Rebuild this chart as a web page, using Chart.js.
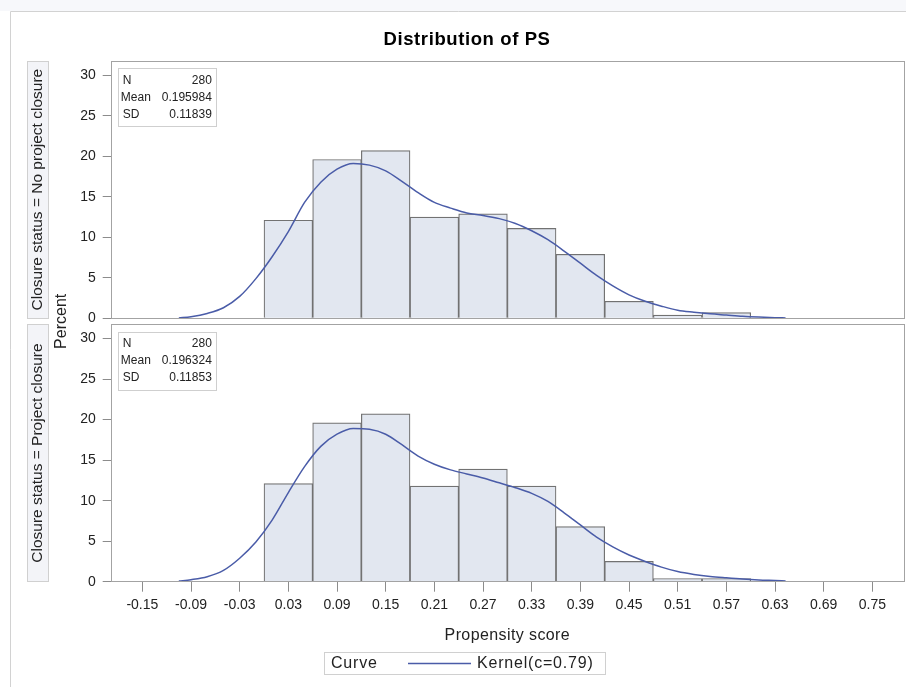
<!DOCTYPE html>
<html>
<head>
<meta charset="utf-8">
<title>Distribution of PS</title>
<script src="https://cdn.jsdelivr.net/npm/chart.js@4.4.0/dist/chart.umd.min.js"></script>
<style>
  html, body { margin: 0; padding: 0; background: #fff; }
  #wrap { position: relative; width: 906px; height: 687px; }
</style>
</head>
<body>
<div id="wrap"><canvas id="ps-chart" width="906" height="687"></canvas></div>
<script>
/* ---------- DATA ---------- */
const binMidpoints = [0.03, 0.09, 0.15, 0.21, 0.27, 0.33, 0.39, 0.45, 0.51, 0.57];
const pctNoClosure = [12.1, 19.6, 20.7, 12.5, 12.9, 11.1, 7.9, 2.1, 0.4, 0.7];
const pctClosure   = [12.1, 19.6, 20.7, 11.8, 13.9, 11.8, 6.8, 2.5, 0.4, 0.4];

const kernelX = [-0.105, -0.09, -0.07, -0.05, -0.03, -0.01, 0.01, 0.03, 0.05, 0.07,
  0.09, 0.11, 0.13, 0.15, 0.17, 0.19, 0.21, 0.23, 0.25, 0.27,
  0.29, 0.31, 0.33, 0.35, 0.37, 0.39, 0.41, 0.43, 0.45, 0.47,
  0.49, 0.51, 0.53, 0.55, 0.57, 0.59, 0.61, 0.63, 0.643];
const kernelNoClosure = [0.05, 0.2, 0.6, 1.3, 2.7, 4.9, 7.6, 10.7, 14.3, 16.8,
  18.4, 19.1, 18.9, 18.2, 16.9, 15.5, 14.3, 13.6, 13.0, 12.7,
  12.3, 11.7, 10.8, 9.7, 8.3, 6.8, 5.3, 4.0, 2.9, 2.1,
  1.5, 1.0, 0.75, 0.55, 0.4, 0.25, 0.15, 0.08, 0.05];
const kernelClosure = [0.08, 0.25, 0.62, 1.4, 2.9, 4.9, 7.6, 11.0, 14.2, 16.7,
  18.2, 18.9, 18.8, 18.2, 16.9, 15.5, 14.5, 13.8, 13.3, 12.8,
  12.2, 11.6, 10.9, 9.9, 8.5, 7.0, 5.5, 4.3, 3.3, 2.5,
  1.8, 1.25, 0.9, 0.65, 0.48, 0.33, 0.22, 0.15, 0.1];

const xTicks = [-0.15, -0.09, -0.03, 0.03, 0.09, 0.15, 0.21, 0.27, 0.33, 0.39, 0.45, 0.51, 0.57, 0.63, 0.69, 0.75];
const yTicks = [0, 5, 10, 15, 20, 25, 30];

const panelLabels = ['Closure status = No project closure', 'Closure status = Project closure'];
const statsNoClosure = [['N', '280'], ['Mean', '0.195984'], ['SD', '0.11839']];
const statsClosure   = [['N', '280'], ['Mean', '0.196324'], ['SD', '0.11853']];

/* ---------- STYLE ---------- */
const FONT = "'Liberation Sans', Arial, sans-serif";
const BAR_FILL = '#e2e7f0';
const BAR_EDGE = '#727272';
const CURVE = '#4a5ca8';
const FRAME = '#a3a3a3';
const TEXT = '#222';

function toPoints(xs, ys) {
  return xs.map((x, i) => ({ x: x, y: ys[i] }));
}

function yAxis(order, min, stackWeight) {
  return {
    type: 'linear', position: 'left', stack: 'panels', stackWeight: stackWeight, weight: order,
    min: min, max: 31.75,
    afterBuildTicks: s => { s.ticks = yTicks.map(v => ({ value: v })); },
    afterFit: s => { s.width = 110.7; },
    grid: { drawOnChartArea: false, drawTicks: true, tickLength: 8, color: '#8c8c8c' },
    border: { display: false },
    ticks: { color: TEXT, font: { family: FONT, size: 14 }, padding: 7 }
  };
}

/* ---------- DECORATION (frames, strips, stats, legend) ---------- */
function drawText(ctx, text, x, y, opts) {
  ctx.save();
  ctx.font = opts.font;
  ctx.fillStyle = opts.color || TEXT;
  ctx.textAlign = opts.align || 'center';
  ctx.textBaseline = 'middle';
  if (opts.spacing) ctx.letterSpacing = opts.spacing;
  ctx.translate(x, y);
  if (opts.rotate) ctx.rotate(opts.rotate);
  ctx.fillText(text, 0, 0);
  ctx.restore();
}

function panelBounds(chart) {
  const a = chart.chartArea;
  const top = chart.scales.yTop, bot = chart.scales.yBot;
  return [
    { left: a.left, right: a.right, top: top.top, bottom: top.getPixelForValue(0) },
    { left: a.left, right: a.right, top: bot.top, bottom: bot.bottom }
  ];
}

const decorPlugin = {
  id: 'psDecor',
  beforeDraw(chart) {
    const ctx = chart.ctx;
    ctx.save();
    ctx.fillStyle = '#f7f8fb';
    ctx.fillRect(0, 0, chart.width, 11);
    ctx.strokeStyle = '#d2d2d2';
    ctx.lineWidth = 1;
    ctx.beginPath();
    ctx.moveTo(10.5, chart.height);
    ctx.lineTo(10.5, 11.5);
    ctx.lineTo(chart.width, 11.5);
    ctx.stroke();
    ctx.restore();
  },
  afterDatasetsDraw(chart) {
    const ctx = chart.ctx;
    const panels = panelBounds(chart);
    ctx.save();
    ctx.strokeStyle = FRAME;
    ctx.lineWidth = 1;
    panels.forEach(p => {
      ctx.strokeRect(Math.round(p.left) + 0.5, Math.round(p.top) + 0.5,
        Math.round(p.right - p.left), Math.round(p.bottom - p.top));
    });
    ctx.restore();
  },
  afterDraw(chart) {
    const ctx = chart.ctx;
    const a = chart.chartArea;
    const panels = panelBounds(chart);
    const allStats = [statsNoClosure, statsClosure];

    drawText(ctx, 'Distribution of PS', 467, 40,
      { font: 'bold 18.5px ' + FONT, color: '#000', spacing: '0.6px' });

    panels.forEach((p, i) => {
      // strip label on the left
      ctx.save();
      ctx.fillStyle = '#f3f4f8';
      ctx.strokeStyle = '#d0d0d0';
      ctx.fillRect(27, p.top, 22, p.bottom - p.top);
      ctx.strokeRect(27.5, Math.round(p.top) + 0.5, 21, Math.round(p.bottom - p.top));
      ctx.restore();
      drawText(ctx, panelLabels[i], 38, (p.top + p.bottom) / 2,
        { font: '15.5px ' + FONT, rotate: -Math.PI / 2 });

      // statistics inset
      const bx = p.left + 7.6, by = p.top + 7.3;
      ctx.save();
      ctx.fillStyle = '#fff';
      ctx.strokeStyle = '#cfcfcf';
      ctx.fillRect(bx, by, 98.4, 58.4);
      ctx.strokeRect(Math.round(bx) + 0.5, Math.round(by) + 0.5, 98, 58);
      ctx.restore();
      allStats[i].forEach((row, r) => {
        const ty = by + 12 + r * 17;
        drawText(ctx, row[0], bx + (row[0] === 'Mean' ? 2.5 : 4.5), ty,
          { font: '12px ' + FONT, align: 'left' });
        drawText(ctx, row[1], bx + 93.5, ty, { font: '12px ' + FONT, align: 'right' });
      });
    });

    // shared y axis title
    drawText(ctx, 'Percent', 62, (panels[0].bottom + panels[1].top) / 2,
      { font: '16px ' + FONT, rotate: -Math.PI / 2 });

    // x axis title
    drawText(ctx, 'Propensity score', (a.left + a.right) / 2, 636,
      { font: '16px ' + FONT, spacing: '0.4px' });

    // legend
    ctx.save();
    ctx.strokeStyle = '#d0d0d0';
    ctx.strokeRect(324.5, 652.5, 281, 22);
    ctx.strokeStyle = CURVE;
    ctx.lineWidth = 1.5;
    ctx.beginPath();
    ctx.moveTo(408, 663.5);
    ctx.lineTo(471, 663.5);
    ctx.stroke();
    ctx.restore();
    drawText(ctx, 'Curve', 331, 663.5, { font: '16px ' + FONT, align: 'left', spacing: '0.8px' });
    drawText(ctx, 'Kernel(c=0.79)', 477, 663.5, { font: '16px ' + FONT, align: 'left', spacing: '0.8px' });
  }
};

/* ---------- CHART ---------- */
function barSet(label, values, axis) {
  return {
    type: 'bar', label: label, yAxisID: axis,
    data: toPoints(binMidpoints, values),
    backgroundColor: BAR_FILL, borderColor: BAR_EDGE, borderWidth: 1.2,
    barPercentage: 1, categoryPercentage: 1, grouped: false, order: 2
  };
}

function curveSet(label, values, axis) {
  return {
    type: 'line', label: label, yAxisID: axis,
    data: toPoints(kernelX, values),
    borderColor: CURVE, borderWidth: 1.5, pointRadius: 0,
    cubicInterpolationMode: 'monotone', fill: false, order: 1
  };
}

new Chart(document.getElementById('ps-chart'), {
  data: {
    datasets: [
      barSet('No project closure', pctNoClosure, 'yTop'),
      curveSet('Kernel(c=0.79)', kernelNoClosure, 'yTop'),
      barSet('Project closure', pctClosure, 'yBot'),
      curveSet('Kernel(c=0.79)', kernelClosure, 'yBot')
    ]
  },
  options: {
    responsive: false,
    animation: false,
    layout: { padding: { left: 0, right: 2, top: 61, bottom: 75.3 } },
    plugins: { legend: { display: false }, tooltip: { enabled: false }, title: { display: false } },
    scales: {
      x: {
        type: 'linear', position: 'bottom', min: -0.189, max: 0.789, offset: false,
        afterBuildTicks: s => { s.ticks = xTicks.map(v => ({ value: v })); },
        afterFit: s => { s.height = 30; },
        grid: { offset: false, drawOnChartArea: false, drawTicks: true, tickLength: 10, color: '#8c8c8c' },
        border: { display: false },
        ticks: {
          color: TEXT, font: { family: FONT, size: 14 }, padding: 5, maxRotation: 0, autoSkip: false,
          callback: v => v.toFixed(2)
        }
      },
      yTop: yAxis(2, -0.75, 32.5),
      yBot: yAxis(1, 0, 31.75)
    }
  },
  plugins: [decorPlugin]
});
</script>
</body>
</html>
